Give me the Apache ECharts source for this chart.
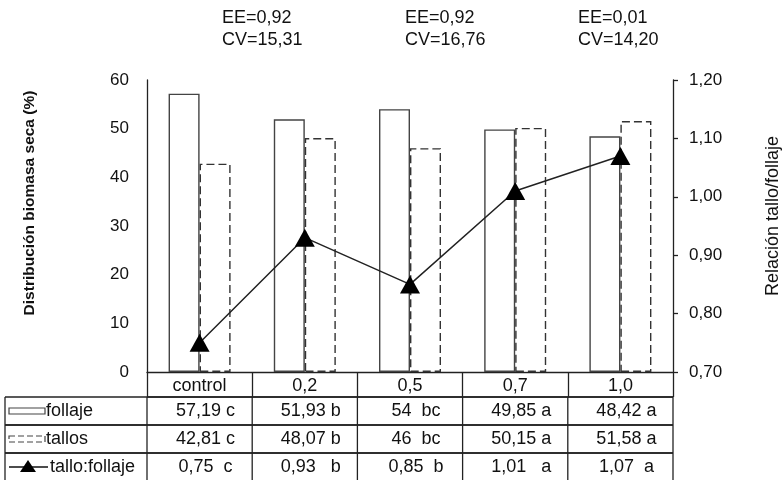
<!DOCTYPE html>
<html><head><meta charset="utf-8">
<script src="https://cdn.jsdelivr.net/npm/echarts@6/dist/echarts.min.js"></script>
<style>html,body{margin:0;padding:0;background:#fff;overflow:hidden}#c{width:784px;height:480px}</style>
</head><body><div id="c"></div>
<script>
const categories = ['control', '0,2', '0,5', '0,7', '1,0'];
const follaje = [57.19, 51.93, 54, 49.85, 48.42];
const tallos = [42.81, 48.07, 46, 50.15, 51.58];
const relacion = [0.75, 0.93, 0.85, 1.01, 1.07];
const follajeLetters = ['c', 'b', ' bc', 'a', 'a'];
const tallosLetters = ['c', 'b', ' bc', 'a', 'a'];
const relacionLetters = ['c', ' b', 'b', ' a', 'a'];
const annotations = ['EE=0,92\nCV=15,31', 'EE=0,92\nCV=16,76', 'EE=0,01\nCV=14,20'];
const leftTicks = [0, 10, 20, 30, 40, 50, 60];
const rightTicks = [0.70, 0.80, 0.90, 1.00, 1.10, 1.20];
const leftTitle = 'Distribución biomasa seca (%)';
const rightTitle = 'Relación tallo/follaje';

const FONT = 'Liberation Sans, Arial, sans-serif';
const chart = echarts.init(document.getElementById('c'), null, {renderer: 'canvas'});
const fmt = v => String(v).replace('.', ',');

const option = {
  animation: false,
  backgroundColor: '#fff',
  textStyle: {fontFamily: FONT},
  grid: {left: 147, right: 111, top: 80, bottom: 108, containLabel: false, outerBoundsMode: 'none'},
  xAxis: {
    type: 'category', data: categories,
    axisLine: {lineStyle: {color: '#222', width: 1.3}},
    axisTick: {show: true, inside: false, length: 25, lineStyle: {color: '#222', width: 1.3}},
    axisLabel: {color: '#111', fontSize: 18, fontFamily: FONT, margin: 5}
  },
  yAxis: [{
    type: 'value', min: leftTicks[0], max: leftTicks[leftTicks.length - 1], interval: 10,
    axisLine: {show: true, lineStyle: {color: '#222', width: 1.3}},
    axisTick: {show: false},
    splitLine: {show: false},
    axisLabel: {color: '#111', fontSize: 17, fontFamily: FONT, margin: 18}
  }, {
    type: 'value', min: rightTicks[0], max: rightTicks[rightTicks.length - 1], interval: 0.1,
    position: 'right',
    axisLine: {show: true, lineStyle: {color: '#222', width: 1.3}},
    axisTick: {show: true, length: 5, lineStyle: {color: '#222', width: 1.3}},
    splitLine: {show: false},
    axisLabel: {color: '#111', fontSize: 17, fontFamily: FONT, margin: 16,
      formatter: v => v.toFixed(2).replace('.', ',')}
  }],
  series: [{
    name: 'follaje', type: 'bar', data: follaje, barWidth: 31, barGap: '0%',
    itemStyle: {color: '#fff', borderColor: '#444', borderWidth: 1.4}
  }, {
    name: 'tallos', type: 'bar', data: tallos, barWidth: 31,
    itemStyle: {color: '#fff', borderColor: '#333', borderWidth: 1.4, borderType: [8, 4]}
  }, {
    name: 'tallo:follaje', type: 'line', yAxisIndex: 1, data: relacion, z: 5,
    symbol: 'triangle', symbolSize: [20, 18],
    lineStyle: {color: '#222', width: 1.5},
    itemStyle: {color: '#000'}
  }]
};
chart.setOption(option);

function drawTable() {
  const c0 = chart.convertToPixel({xAxisIndex: 0}, 0);
  const c1 = chart.convertToPixel({xAxisIndex: 0}, 1);
  const band = c1 - c0;
  const xL = c0 - band / 2;
  const xR = xL + band * categories.length;
  const yAxisBottom = chart.convertToPixel({yAxisIndex: 0}, 0);
  const rowH = 28;
  const hdrBottom = yAxisBottom + 25;
  const rows = [
    {label: 'follaje', vals: follaje.map((v, i) => fmt(v) + ' ' + follajeLetters[i])},
    {label: 'tallos', vals: tallos.map((v, i) => fmt(v) + ' ' + tallosLetters[i])},
    {label: 'tallo:follaje', vals: relacion.map((v, i) => fmt(v) + '  ' + relacionLetters[i])}
  ];
  const tableLeft = 5;
  const els = [];
  const ls = {stroke: '#222', lineWidth: 1.3};
  els.push({type: 'line', shape: {x1: xL, y1: hdrBottom, x2: xR, y2: hdrBottom}, style: ls});
  rows.forEach((r, ri) => {
    const top = hdrBottom + ri * rowH;
    const bot = top + rowH;
    const mid = top + rowH / 2;
    els.push({type: 'line', shape: {x1: tableLeft, y1: top, x2: xR, y2: top}, style: ls});
    if (ri < rows.length - 1) {
      els.push({type: 'line', shape: {x1: tableLeft, y1: bot, x2: xR, y2: bot}, style: ls});
    }
    const bEnd = ri < rows.length - 1 ? bot : 480;
    els.push({type: 'line', shape: {x1: tableLeft, y1: top, x2: tableLeft, y2: bEnd}, style: ls});
    for (let k = 0; k <= categories.length; k++) {
      const x = xL + k * band;
      els.push({type: 'line', shape: {x1: x, y1: top, x2: x, y2: bEnd}, style: ls});
    }
    if (ri === 0) {
      els.push({type: 'rect', shape: {x: 9, y: mid - 3, width: 36, height: 6},
        style: {fill: '#fff', stroke: '#444', lineWidth: 1.2}});
    } else if (ri === 1) {
      els.push({type: 'rect', shape: {x: 9, y: mid - 3, width: 36, height: 6},
        style: {fill: '#fff', stroke: '#444', lineWidth: 1.2, lineDash: [6, 3]}});
    } else {
      els.push({type: 'line', shape: {x1: 9, y1: mid, x2: 48, y2: mid}, style: {stroke: '#111', lineWidth: 1.5}});
      els.push({type: 'polygon', shape: {points: [[28, mid - 7], [20, mid + 5], [36, mid + 5]]}, style: {fill: '#000'}});
    }
    els.push({type: 'text', x: ri === 2 ? 50 : 46, y: mid,
      style: {text: r.label, font: '18px ' + FONT, fill: '#111', verticalAlign: 'middle', align: 'left'}});
    r.vals.forEach((t, k) => {
      els.push({type: 'text', x: xL + k * band + band / 2 + 6, y: mid,
        style: {text: t, font: '18px ' + FONT, fill: '#111', verticalAlign: 'middle', align: 'center'}});
    });
  });
  const annX = [222, 405, 578];
  annotations.forEach((a, i) => {
    els.push({type: 'text', x: annX[i], y: 7,
      style: {text: a, font: '18px ' + FONT, fill: '#111', lineHeight: 22, align: 'left', verticalAlign: 'top'}});
  });
  els.push({type: 'text', x: 30, y: 203, rotation: Math.PI / 2,
    style: {text: leftTitle, font: 'bold 15.5px ' + FONT, fill: '#111', align: 'center', verticalAlign: 'middle'}});
  els.push({type: 'text', x: 773, y: 216, rotation: Math.PI / 2,
    style: {text: rightTitle, font: '18px ' + FONT, fill: '#111', align: 'center', verticalAlign: 'middle'}});
  chart.setOption({graphic: {elements: els}});
}
drawTable();
</script>
</body></html>
